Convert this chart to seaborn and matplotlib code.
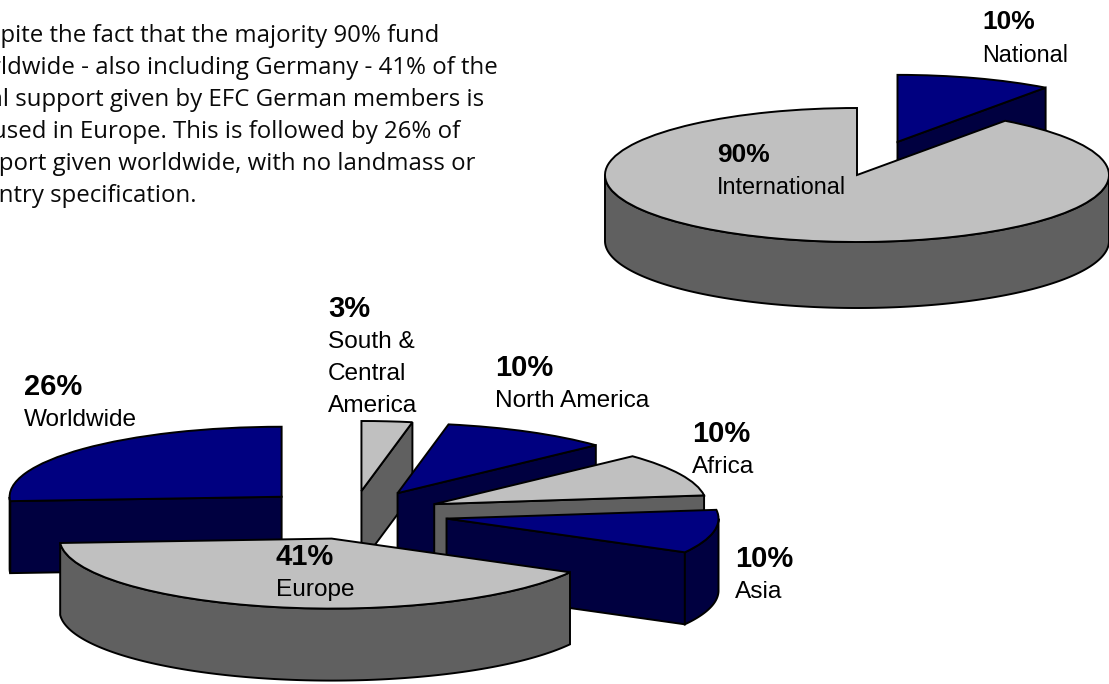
import numpy as np
import matplotlib
matplotlib.use("Agg")
import matplotlib.pyplot as plt
import seaborn as sns

W, H = 1109, 684
NAVY, NAVY_SIDE = "#000080", "#000040"
GREY, GREY_SIDE = "#c0c0c0", "#606060"

# ---- data ----
scope_names = ["National", "International"]
scope_values = [10, 90]
scope_colors = [NAVY, GREY]
scope_sides = [NAVY_SIDE, GREY_SIDE]

region_names = ["South &\nCentral\nAmerica", "North America", "Africa", "Asia", "Europe", "Worldwide"]
region_values = [3, 10, 10, 10, 41, 26]
region_colors = [GREY, NAVY, GREY, NAVY, GREY, NAVY]
region_sides = [GREY_SIDE, NAVY_SIDE, GREY_SIDE, NAVY_SIDE, GREY_SIDE, NAVY_SIDE]

paragraph = [
    "Despite the fact that the majority 90% fund",
    "worldwide - also including Germany - 41% of the",
    "total support given by EFC German members is",
    "focused in Europe. This is followed by 26% of",
    "support given worldwide, with no landmass or",
    "country specification.",
]

sns.set_theme(style="white")
plt.rcParams["font.family"] = ["Liberation Sans", "DejaVu Sans"]
fig = plt.figure(figsize=(W / 100, H / 100), dpi=100, facecolor="white")


def pie3d(values, colors, sides, cx, cy, rx, ry, depth, explode, start, order):
    ax = fig.add_axes([0, 0, 1, 1], facecolor="none")
    wedges, _ = ax.pie(values, colors=colors, explode=explode, startangle=start,
                       counterclock=False, radius=1,
                       wedgeprops=dict(edgecolor="black", linewidth=1.4))
    ax.set_aspect("auto")
    ax.set_xlim(-cx / rx, (W - cx) / rx)
    ax.set_ylim((cy - H) / ry, cy / ry)
    ax.axis("off")
    d = depth / ry
    for w, side, z in zip(wedges, sides, order):
        w.set_zorder(3 * z + 2)
        x0, y0 = w.center
        t1, t2 = np.radians(w.theta1), np.radians(w.theta2)
        for t, sign in ((t1, -1), (t2, 1)):
            if np.sin(t + sign * np.pi / 2) < -1e-6:
                px, py = x0 + np.cos(t), y0 + np.sin(t)
                ax.fill([x0, px, px, x0], [y0, py, py - d, y0 - d], facecolor=side,
                        edgecolor="black", linewidth=1.4, zorder=3 * z)
        tt = np.linspace(t1, t2, 400)
        tt = tt[np.sin(tt) <= 0]
        if tt.size:
            ax_ = x0 + np.cos(tt)
            ay_ = y0 + np.sin(tt)
            ax.fill(np.r_[ax_, ax_[::-1]], np.r_[ay_, ay_[::-1] - d], facecolor=side,
                    edgecolor="black", linewidth=1.4, zorder=3 * z + 1)
    return ax


# upper pie
pie3d(scope_values, scope_colors, scope_sides, cx=857, cy=175, rx=252, ry=67, depth=66,
      explode=[0.52, 0], start=90, order=[0, 1])
# lower pie
pie3d(region_values, region_colors, region_sides, cx=353, cy=514, rx=272, ry=70, depth=72,
      explode=[0.33, 0.34, 0.33, 0.35, 0.36, 0.36], start=90, order=[1, 2, 3, 4, 5, 0])

# paragraph
overlay = fig.add_axes([0, 0, 1, 1], facecolor="none", zorder=50)
overlay.set_xlim(0, W)
overlay.set_ylim(H, 0)
overlay.axis("off")
for i, line in enumerate(paragraph):
    overlay.text(-42, 36 + 31.9 * i, line, fontsize=17.3, family=["Open Sans", "DejaVu Sans"],
                 va="center", ha="left", color="#0a0a0a")

# labels: value, name, x, y of the value, font sizes
label_values = scope_values + region_values
label_names = scope_names + region_names
label_x = [982, 717, 328, 495, 692, 735, 276, 24]
label_y = [22, 155, 309, 368, 434, 559, 557, 387]
label_bold = [19, 19, 21, 21, 21, 21, 21, 21]
label_reg = [16.8, 16.8, 17.6, 17.6, 17.6, 17.6, 17.6, 17.6]
for v, n, x, y, fb, fr in zip(label_values, label_names, label_x, label_y, label_bold, label_reg):
    overlay.text(x, y, f"{v}%", fontsize=fb, fontweight="bold", va="center", ha="left", color="black")
    for k, part in enumerate(n.split("\n")):
        overlay.text(x, y + 33 + 32 * k, part, fontsize=fr, va="center", ha="left", color="black")

fig.savefig("out.png", dpi=100)
